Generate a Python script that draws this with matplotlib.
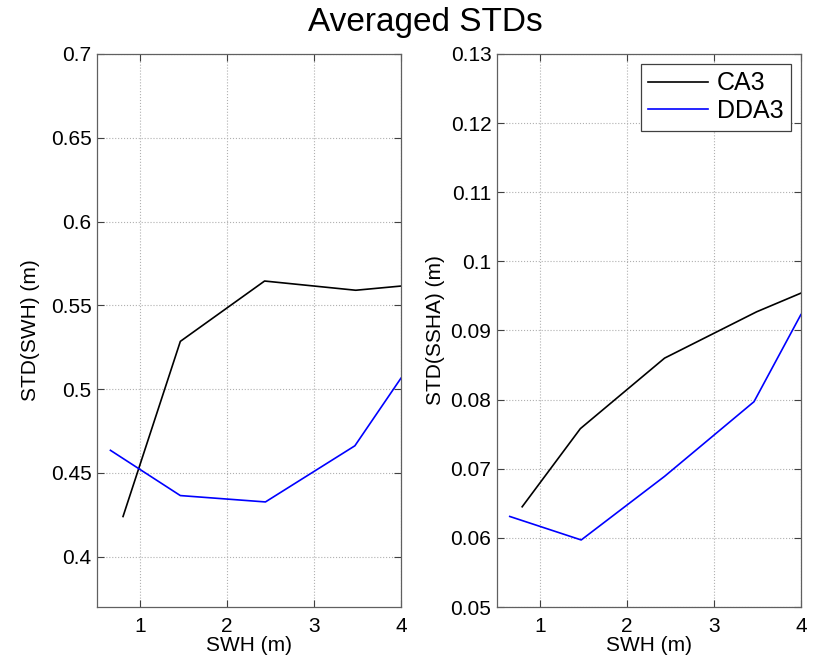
import matplotlib
matplotlib.use("Agg")
import matplotlib.pyplot as plt

plt.rcParams['font.family'] = ['Liberation Sans', 'DejaVu Sans']

# SWH bins (m) and averaged STD values, one pair of lists per curve
swh_ca3_swh = [0.80, 1.46, 2.43, 3.48, 4.00]
std_swh_ca3 = [0.424, 0.5285, 0.5645, 0.559, 0.5615]
swh_dda3_swh = [0.655, 1.46, 2.44, 3.47, 4.00]
std_swh_dda3 = [0.4635, 0.4365, 0.4327, 0.4662, 0.5065]

swh_ca3_ssha = [0.79, 1.46, 2.43, 3.49, 4.00]
std_ssha_ca3 = [0.0645, 0.0758, 0.0860, 0.0927, 0.0954]
swh_dda3_ssha = [0.647, 1.47, 2.43, 3.46, 4.00]
std_ssha_dda3 = [0.0631, 0.0597, 0.0689, 0.0797, 0.0923]

xticks = [1, 2, 3, 4]
yticks_swh = [0.4, 0.45, 0.5, 0.55, 0.6, 0.65, 0.7]
yticks_ssha = [0.05, 0.06, 0.07, 0.08, 0.09, 0.1, 0.11, 0.12, 0.13]


def estilo(ax):
    ax.grid(True, linestyle=':', color='#b0b0b0', linewidth=0.8)
    ax.tick_params(direction='in', top=True, right=True, labelsize=15,
                   length=5, color='#404040', pad=4)
    ax.tick_params(axis='x', pad=7)
    for s in ax.spines.values():
        s.set_color('#606060')
        s.set_linewidth(0.9)
    ax.set_xlim(0.5, 4)
    ax.set_xticks(xticks)
    ax.set_xlabel('SWH (m)', fontsize=15, labelpad=0)


fig = plt.figure(figsize=(8.17, 6.64), dpi=100)
ax1 = fig.add_axes([0.1187, 0.0858, 0.372, 0.833])
ax2 = fig.add_axes([0.6083, 0.0858, 0.372, 0.833])

ax1.plot(swh_ca3_swh, std_swh_ca3, color='black', lw=1.2)
ax1.plot(swh_dda3_swh, std_swh_dda3, color='#0000ff', lw=1.2)
estilo(ax1)
ax1.set_ylim(0.37, 0.7)
ax1.set_yticks(yticks_swh)
ax1.set_yticklabels(['0.4', '0.45', '0.5', '0.55', '0.6', '0.65', '0.7'])
ax1.set_ylabel('STD(SWH) (m)', fontsize=15, labelpad=8)

ax2.plot(swh_ca3_ssha, std_ssha_ca3, color='black', lw=1.2, label='CA3')
ax2.plot(swh_dda3_ssha, std_ssha_dda3, color='#0000ff', lw=1.2, label='DDA3')
estilo(ax2)
ax2.set_ylim(0.05, 0.13)
ax2.set_yticks(yticks_ssha)
ax2.set_yticklabels(['0.05', '0.06', '0.07', '0.08', '0.09', '0.1', '0.11', '0.12', '0.13'])
ax2.set_ylabel('STD(SSHA) (m)', fontsize=15, labelpad=4)

leg = ax2.legend(loc='upper right', fontsize=18, fancybox=False, framealpha=1,
                 edgecolor='#404040', handlelength=2.4, borderpad=0.3,
                 labelspacing=0.15, handletextpad=0.35, borderaxespad=0.4)
leg.get_frame().set_linewidth(0.9)

fig.text(0.521, 0.966, 'Averaged STDs', ha='center', va='center', fontsize=24)

fig.savefig('out.png', dpi=100)
